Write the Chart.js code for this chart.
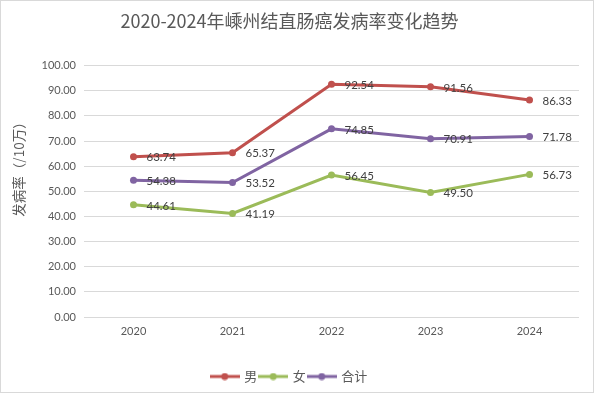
<!DOCTYPE html>
<html lang="zh">
<head>
  <meta charset="utf-8">
  <title>嵊州结直肠癌发病率</title>
  <script src="https://cdn.jsdelivr.net/npm/chart.js@4.4.1/dist/chart.umd.min.js"></script>
  <style>
    html, body { margin: 0; padding: 0; background: #fff; }
    #wrap { position: relative; width: 594px; height: 393px; }
  </style>
</head>
<body>
  <div id="wrap"><canvas id="myChart" width="594" height="393"></canvas></div>

  <script>
    // data
    var years = ['2020', '2021', '2022', '2023', '2024'];
    var male = [63.74, 65.37, 92.54, 91.56, 86.33];
    var female = [44.61, 41.19, 56.45, 49.50, 56.73];
    var total = [54.38, 53.52, 74.85, 70.91, 71.78];
    var seriesNames = ['男', '女', '合计'];
    var seriesColors = ['#c0504d', '#9bbb59', '#8064a2'];
    var yTitle = '发病率（/10万）';

    var cjk = '"Noto Sans CJK SC", "Noto Sans", sans-serif';
    var num = 'Lato, "Noto Sans", sans-serif';

    // small line-with-dot icon for the legend
    function legendIcon(color) {
      var c = document.createElement('canvas');
      c.width = 30; c.height = 8;
      var g = c.getContext('2d');
      g.strokeStyle = color; g.lineWidth = 3;
      g.beginPath(); g.moveTo(0, 4); g.lineTo(30, 4); g.stroke();
      g.fillStyle = color;
      g.beginPath(); g.arc(15, 4, 3.5, 0, Math.PI * 2); g.fill();
      return c;
    }

    // white background + thin frame + y axis title
    var framePlugin = {
      id: 'frame',
      beforeDraw: function (chart) {
        var ctx = chart.ctx;
        ctx.save();
        ctx.fillStyle = '#fff';
        ctx.fillRect(0, 0, chart.width, chart.height);
        ctx.strokeStyle = '#d9d9d9';
        ctx.lineWidth = 1;
        ctx.strokeRect(0.5, 0.5, chart.width - 1, chart.height - 1);
        // y title sits a bit above the plot centre, like the original
        ctx.translate(19, 166);
        ctx.rotate(-Math.PI / 2);
        ctx.font = '13.5px ' + cjk;
        ctx.fillStyle = '#595959';
        ctx.textAlign = 'center';
        ctx.textBaseline = 'middle';
        ctx.fillText(yTitle, 0, 0);
        ctx.restore();
      }
    };

    // value labels right of each point
    var labelPlugin = {
      id: 'valueLabels',
      afterDatasetsDraw: function (chart) {
        var ctx = chart.ctx;
        ctx.save();
        ctx.font = '11.5px ' + num;
        ctx.fillStyle = '#404040';
        ctx.textAlign = 'left';
        ctx.textBaseline = 'middle';
        chart.data.datasets.forEach(function (ds, i) {
          chart.getDatasetMeta(i).data.forEach(function (pt, j) {
            ctx.fillText(ds.data[j].toFixed(2), pt.x + 13, pt.y + 1);
          });
        });
        ctx.restore();
      }
    };

    var datasets = [male, female, total].map(function (vals, i) {
      return {
        label: seriesNames[i],
        data: vals,
        borderColor: seriesColors[i],
        backgroundColor: seriesColors[i],
        borderWidth: 3,
        pointRadius: 3.5,
        pointHoverRadius: 3.5,
        pointBorderWidth: 0,
        tension: 0
      };
    });

    var ctx = document.getElementById('myChart');
    var myChart = new Chart(ctx, {
      type: 'line',
      data: { labels: years, datasets: datasets },
      plugins: [framePlugin, labelPlugin],
      options: {
        responsive: false,
        animation: false,
        layout: { padding: { top: 0, left: 0, right: 15, bottom: 0 } },
        plugins: {
          title: {
            display: true,
            text: '2020-2024年嵊州结直肠癌发病率变化趋势',
            color: '#595959',
            font: { family: cjk, size: 18, weight: 'normal' },
            padding: { top: 10, bottom: 34 }
          },
          legend: {
            position: 'bottom',
            labels: {
              usePointStyle: true,
              pointStyleWidth: 26,
              color: '#595959',
              font: { family: cjk, size: 13 },
              padding: 3,
              generateLabels: function (chart) {
                return chart.data.datasets.map(function (ds, i) {
                  return {
                    text: ds.label,
                    pointStyle: legendIcon(seriesColors[i]),
                    fillStyle: seriesColors[i],
                    strokeStyle: seriesColors[i],
                    fontColor: '#595959',
                    lineWidth: 0,
                    datasetIndex: i
                  };
                });
              }
            }
          },
          tooltip: { enabled: false }
        },
        scales: {
          x: {
            offset: true,
            grid: { display: false, drawTicks: false },
            border: { display: false },
            ticks: { color: '#595959', font: { family: num, size: 11 }, padding: 8 },
            afterFit: function (scale) { scale.height = 50; }
          },
          y: {
            min: 0,
            max: 100,
            ticks: {
              stepSize: 10,
              color: '#595959',
              font: { family: num, size: 11 },
              padding: 8,
              callback: function (v) { return v.toFixed(2); }
            },
            grid: { color: '#d9d9d9', drawTicks: false },
            border: { display: false },
            afterFit: function (scale) { scale.width = 84; }
          }
        }
      }
    });
  </script>
</body>
</html>
